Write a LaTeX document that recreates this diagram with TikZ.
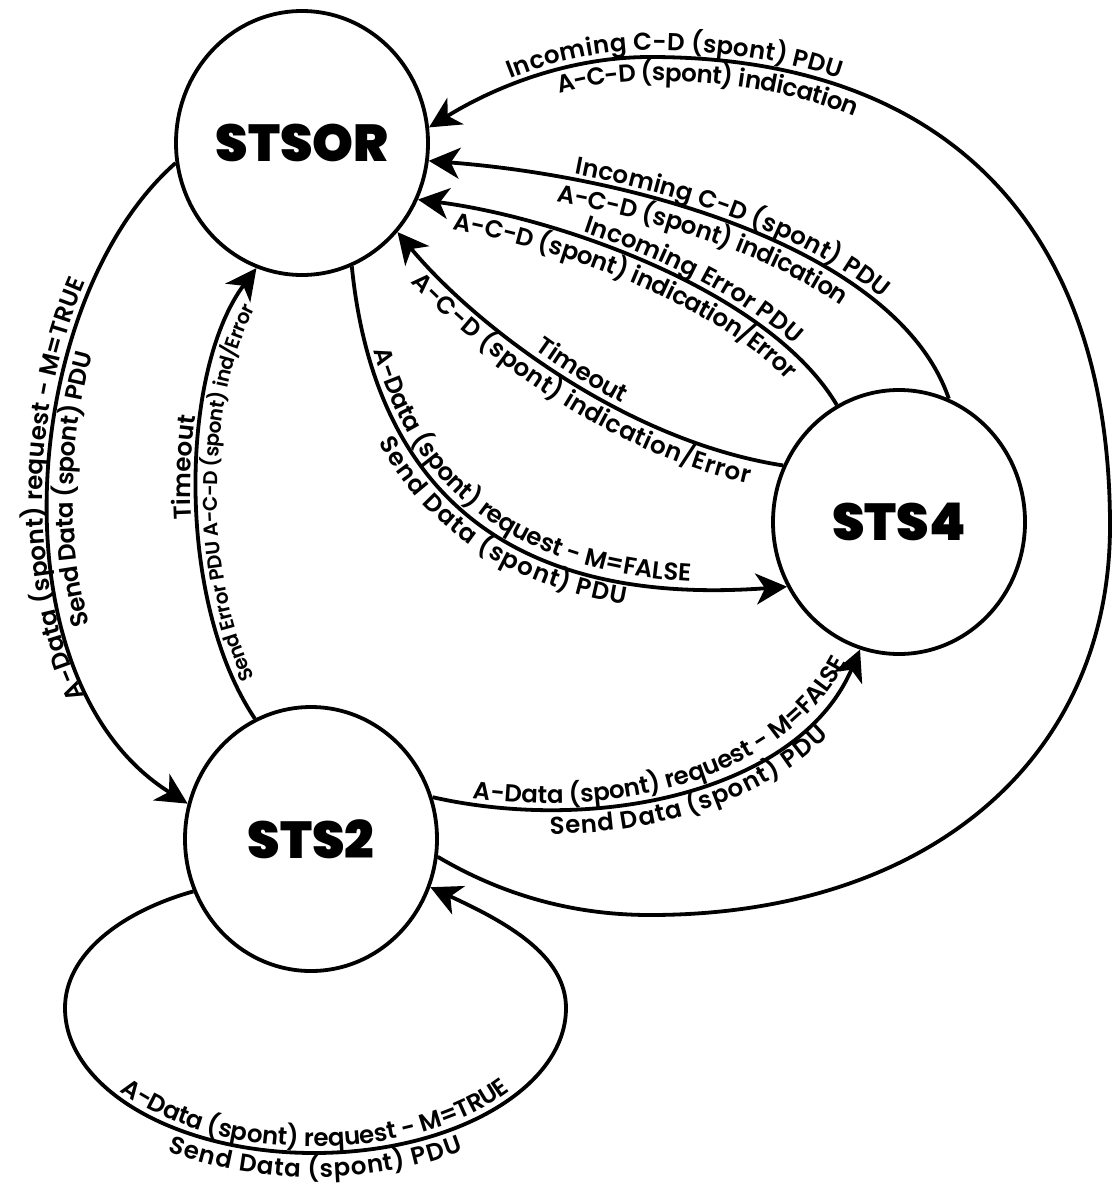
\documentclass[tikz,border=0pt]{standalone}
\usepackage{fontspec}
\setmainfont{Poppins}
\newfontfamily\lblfont{Poppins SemiBold}
\usetikzlibrary{arrows.meta,shapes.geometric,decorations.text}

\tikzset{
  state/.style={ellipse, draw, line width=3.8pt, minimum width=252pt,
    minimum height=264pt, inner sep=0pt, fill=white,
    font=\fontsize{52}{52}\selectfont\bfseries},
  wire/.style={line width=3.8pt},
  trans/.style={wire, -{Stealth[length=31pt,width=31pt,inset=9pt]}},
  upper/.style={decorate, decoration={text along path, raise=6.5pt, text={#1}}},
  lower/.style={decorate, decoration={text along path, raise=-24pt, text={#1}}},
  lowersmall/.style={decorate, decoration={text along path, raise=-20pt, text={#1}}},
  from start/.style={decoration={text align={left indent=#1}}},
  centred/.style={decoration={text align=center}},
  centred late/.style={decoration={text align={center, left indent=#1}}},
}

\begin{document}
\begin{tikzpicture}[x=1pt, y=-1pt]
\useasboundingbox (0,0) rectangle (1114,1191);
\lblfont\fontsize{24.5}{28}\selectfont

% states
\node[state] (stsor) at (302,143) {STSOR};
\node[state] (stsiv) at (899,522) {STS4};
\node[state] (stsii) at (311,839) {STS2};

% STSOR -> STS2
\draw[trans] (stsor.189) .. controls (20,300) and (-10,680) .. (stsii.164);
\path[upper={A-Data (spont) request - M=TRUE}, centred]
  (stsii.164) .. controls (-10,680) and (20,300) .. (stsor.189);
\path[lower={Send Data (spont) PDU}, centred]
  (stsii.164) .. controls (-10,680) and (20,300) .. (stsor.189);

% STS2 -> STSOR
\draw[trans] (stsii.115) .. controls (175,600) and (180,370) .. (stsor.250);
\path[upper={Timeout}, centred late=50pt]
  (stsii.115) .. controls (175,600) and (180,370) .. (stsor.250);
\begin{scope}
\fontsize{20}{23}\selectfont
\path[lowersmall={Send Error PDU A-C-D (spont) ind/Error}, centred]
  (stsii.115) .. controls (175,600) and (180,370) .. (stsor.250);
\end{scope}

% STSOR -> STS4
\draw[trans] (stsor.-68) .. controls (370,450) and (470,610) .. (stsiv.210);
\path[upper={A-Data (spont) request - M=FALSE}, from start=88pt]
  (stsor.-68) .. controls (370,450) and (470,610) .. (stsiv.210);
\path[lower={Send Data (spont) PDU}, from start=172pt]
  (stsor.-68) .. controls (370,450) and (470,610) .. (stsiv.210);

% STS2 -> STS4
\draw[trans] (stsii.19) .. controls (600,835) and (800,790) .. (stsiv.253);
\path[upper={A-Data (spont) request - M=FALSE}, from start=40pt]
  (stsii.19) .. controls (600,835) and (800,790) .. (stsiv.253);
\path[lower={Send Data (spont) PDU}, from start=118pt]
  (stsii.19) .. controls (600,835) and (800,790) .. (stsiv.253);

% STS4 -> STSOR, incoming C-D
\draw[trans] (stsiv.68) .. controls (900,255) and (650,178) .. (stsor.-8);
\path[upper={Incoming C-D (spont) PDU}, from start=146pt]
  (stsor.-8) .. controls (650,178) and (900,255) .. (stsiv.68);
\path[lower={A-C-D (spont) indication}, from start=133pt]
  (stsor.-8) .. controls (650,178) and (900,255) .. (stsiv.68);

% STS4 -> STSOR, incoming error
\draw[trans] (stsiv.118) .. controls (770,292) and (560,218) .. (stsor.-26);
\path[upper={Incoming Error PDU}, from start=168pt]
  (stsor.-26) .. controls (560,218) and (770,292) .. (stsiv.118);
\path[lower={A-C-D (spont) indication/Error}, from start=40pt]
  (stsor.-26) .. controls (560,218) and (770,292) .. (stsiv.118);

% STS4 -> STSOR, timeout
\draw[trans] (stsiv.154) .. controls (620,440) and (470,320) .. (stsor.-43);
\path[upper={Timeout}, from start=182pt]
  (stsor.-43) .. controls (470,320) and (620,440) .. (stsiv.154);
\path[lower={A-C-D (spont) indication/Error}, from start=45pt]
  (stsor.-43) .. controls (470,320) and (620,440) .. (stsiv.154);

% STS2 -> STSOR, outer loop
\draw[trans] (stsii.-8) .. controls (504,896) and (575,915) .. (650,915)
  .. controls (928,915) and (1110,759) .. (1110,526)
  .. controls (1110,226) and (946,57) .. (650,57)
  .. controls (570,57) and (496,86) .. (stsor.7);
\path[upper={Incoming C-D (spont) PDU}, from start=94pt]
  (stsor.7) .. controls (496,86) and (570,57) .. (650,57)
  .. controls (946,57) and (1110,226) .. (1110,526);
\path[lower={A-C-D (spont) indication}, from start=137pt]
  (stsor.7) .. controls (496,86) and (570,57) .. (650,57)
  .. controls (946,57) and (1110,226) .. (1110,526);

% STS2 self loop
\draw[trans] (stsii.-156) .. controls (120,912) and (65,955) .. (65,1008)
  .. controls (65,1088) and (176,1153) .. (314,1153)
  .. controls (453,1153) and (566,1088) .. (566,1008)
  .. controls (566,955) and (506,922) .. (stsii.-22);
\path[upper={A-Data (spont) request - M=TRUE}, centred]
  (65,1008) .. controls (65,1088) and (176,1153) .. (314,1153)
  .. controls (453,1153) and (566,1088) .. (566,1008);
\path[lower={Send Data (spont) PDU}, centred]
  (65,1008) .. controls (65,1088) and (176,1153) .. (314,1153)
  .. controls (453,1153) and (566,1088) .. (566,1008);
\end{tikzpicture}
\end{document}
